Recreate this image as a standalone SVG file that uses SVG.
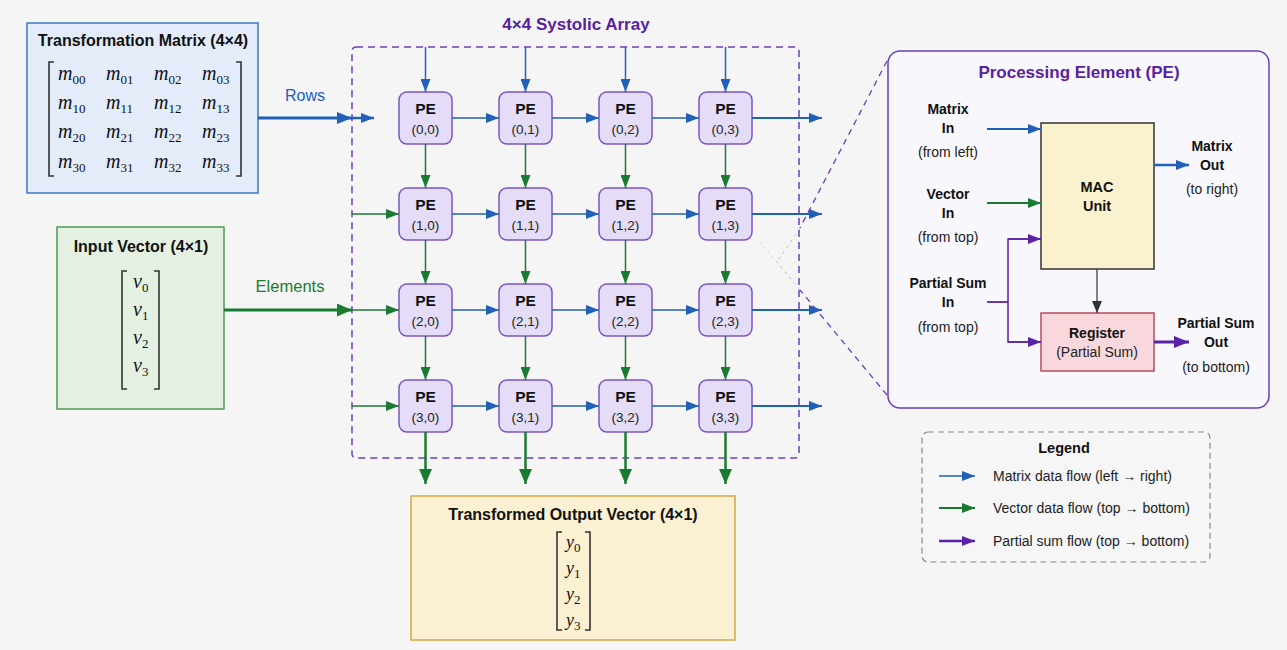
<svg xmlns="http://www.w3.org/2000/svg" width="1287" height="650" viewBox="0 0 1287 650">
<style>
text{font-family:"Liberation Sans",Arial,sans-serif;fill:#111}
.ttl{font-size:16px;font-weight:bold;text-anchor:middle}
.pe{fill:#e5ddf7;stroke:#7a55c4;stroke-width:1.5}
.pet{font-size:15.5px;font-weight:bold;text-anchor:middle}
.pec{font-size:13.5px;text-anchor:middle;fill:#222}
.m{font-family:"Liberation Serif","Times New Roman",serif;font-style:italic;font-size:20px}
.sub{font-style:normal;font-size:13px}
.br{fill:none;stroke:#333;stroke-width:1.6}
.lb{font-size:14px;font-weight:bold;text-anchor:middle}
.ln{font-size:14px;text-anchor:middle;fill:#222}
.blue{stroke:#2160b8;fill:none}
.green{stroke:#1b7a32;fill:none}
.purple{stroke:#5a22a6;fill:none}
.lg{font-size:14px;fill:#222}
</style>
<defs>
<marker id="ab" markerUnits="userSpaceOnUse" markerWidth="13" markerHeight="10" refX="13" refY="5" orient="auto"><path d="M0,0 L13,5 L0,10 z" fill="#2160b8"/></marker>
<marker id="ag" markerUnits="userSpaceOnUse" markerWidth="13" markerHeight="10" refX="13" refY="5" orient="auto"><path d="M0,0 L13,5 L0,10 z" fill="#1b7a32"/></marker>
<marker id="agL" markerUnits="userSpaceOnUse" markerWidth="15" markerHeight="13" refX="15" refY="6.5" orient="auto"><path d="M0,0 L15,6.5 L0,13 z" fill="#1b7a32"/></marker>
<marker id="abL" markerUnits="userSpaceOnUse" markerWidth="15" markerHeight="12" refX="15" refY="6" orient="auto"><path d="M0,0 L15,6 L0,12 z" fill="#2160b8"/></marker>
<marker id="ap" markerUnits="userSpaceOnUse" markerWidth="13" markerHeight="10" refX="13" refY="5" orient="auto"><path d="M0,0 L13,5 L0,10 z" fill="#5a22a6"/></marker>
<marker id="apL" markerUnits="userSpaceOnUse" markerWidth="15" markerHeight="12" refX="15" refY="6" orient="auto"><path d="M0,0 L15,6 L0,12 z" fill="#5a22a6"/></marker>
<marker id="ak" markerUnits="userSpaceOnUse" markerWidth="12" markerHeight="10" refX="12" refY="5" orient="auto"><path d="M0,0 L12,5 L0,10 z" fill="#333"/></marker>
</defs>
<rect width="1287" height="650" fill="#f5f5f5"/>

<!-- Array frame -->
<g id="array-frame">
<text x="576" y="30" style="font-size:17px;font-weight:bold;fill:#5a1f9e;text-anchor:middle">4×4 Systolic Array</text>
<rect x="352" y="47" width="447" height="411" rx="4" fill="none" stroke="#6a3fb8" stroke-width="1.5" stroke-dasharray="7,5"/>
</g>

<!-- Transformation matrix -->
<g id="matrix">
<rect x="27" y="23" width="231" height="170" fill="#e3ecf8" stroke="#3c78c8" stroke-width="1.5"/>
<text class="ttl" x="143" y="46">Transformation Matrix (4×4)</text>
<path class="br" d="M54,62 H49 V176 H54"/>
<path class="br" d="M236,62 H241 V176 H236"/>
<text class="m" x="58" y="80">m<tspan class="sub" dy="4">00</tspan></text>
<text class="m" x="106" y="80">m<tspan class="sub" dy="4">01</tspan></text>
<text class="m" x="154" y="80">m<tspan class="sub" dy="4">02</tspan></text>
<text class="m" x="202" y="80">m<tspan class="sub" dy="4">03</tspan></text>
<text class="m" x="58" y="109">m<tspan class="sub" dy="4">10</tspan></text>
<text class="m" x="106" y="109">m<tspan class="sub" dy="4">11</tspan></text>
<text class="m" x="154" y="109">m<tspan class="sub" dy="4">12</tspan></text>
<text class="m" x="202" y="109">m<tspan class="sub" dy="4">13</tspan></text>
<text class="m" x="58" y="138">m<tspan class="sub" dy="4">20</tspan></text>
<text class="m" x="106" y="138">m<tspan class="sub" dy="4">21</tspan></text>
<text class="m" x="154" y="138">m<tspan class="sub" dy="4">22</tspan></text>
<text class="m" x="202" y="138">m<tspan class="sub" dy="4">23</tspan></text>
<text class="m" x="58" y="168">m<tspan class="sub" dy="4">30</tspan></text>
<text class="m" x="106" y="168">m<tspan class="sub" dy="4">31</tspan></text>
<text class="m" x="154" y="168">m<tspan class="sub" dy="4">32</tspan></text>
<text class="m" x="202" y="168">m<tspan class="sub" dy="4">33</tspan></text>
</g>

<!-- Input vector -->
<g id="input-vector">
<rect x="57" y="227" width="167" height="182" fill="#e4f1e2" stroke="#4e9a52" stroke-width="1.5"/>
<text class="ttl" x="141" y="252">Input Vector (4×1)</text>
<path class="br" d="M127,271 H122 V389 H127"/>
<path class="br" d="M154,271 H159 V389 H154"/>
<text class="m" x="133" y="288">v<tspan class="sub" dy="4">0</tspan></text>
<text class="m" x="133" y="316">v<tspan class="sub" dy="4">1</tspan></text>
<text class="m" x="133" y="344">v<tspan class="sub" dy="4">2</tspan></text>
<text class="m" x="133" y="372">v<tspan class="sub" dy="4">3</tspan></text>
</g>

<!-- Output vector -->
<g id="output-vector">
<rect x="411" y="496" width="324" height="144" fill="#fbf0d2" stroke="#d6a646" stroke-width="1.5"/>
<text class="ttl" x="573" y="520">Transformed Output Vector (4×1)</text>
<path class="br" d="M562,532 H557 V630 H562"/>
<path class="br" d="M585,532 H590 V630 H585"/>
<text class="m" x="566" y="548" style="font-size:18px">y<tspan class="sub" dy="4">0</tspan></text>
<text class="m" x="566" y="574" style="font-size:18px">y<tspan class="sub" dy="4">1</tspan></text>
<text class="m" x="566" y="600" style="font-size:18px">y<tspan class="sub" dy="4">2</tspan></text>
<text class="m" x="566" y="626" style="font-size:18px">y<tspan class="sub" dy="4">3</tspan></text>
</g>

<!-- PE nodes -->
<g id="pe-0-0"><rect class="pe" x="399" y="92" width="53" height="52" rx="8"/><text class="pet" x="425.5" y="114">PE</text><text class="pec" x="425.5" y="134">(0,0)</text></g>
<g id="pe-0-1"><rect class="pe" x="499" y="92" width="53" height="52" rx="8"/><text class="pet" x="525.5" y="114">PE</text><text class="pec" x="525.5" y="134">(0,1)</text></g>
<g id="pe-0-2"><rect class="pe" x="599" y="92" width="53" height="52" rx="8"/><text class="pet" x="625.5" y="114">PE</text><text class="pec" x="625.5" y="134">(0,2)</text></g>
<g id="pe-0-3"><rect class="pe" x="699" y="92" width="53" height="52" rx="8"/><text class="pet" x="725.5" y="114">PE</text><text class="pec" x="725.5" y="134">(0,3)</text></g>
<g id="pe-1-0"><rect class="pe" x="399" y="188" width="53" height="52" rx="8"/><text class="pet" x="425.5" y="210">PE</text><text class="pec" x="425.5" y="230">(1,0)</text></g>
<g id="pe-1-1"><rect class="pe" x="499" y="188" width="53" height="52" rx="8"/><text class="pet" x="525.5" y="210">PE</text><text class="pec" x="525.5" y="230">(1,1)</text></g>
<g id="pe-1-2"><rect class="pe" x="599" y="188" width="53" height="52" rx="8"/><text class="pet" x="625.5" y="210">PE</text><text class="pec" x="625.5" y="230">(1,2)</text></g>
<g id="pe-1-3"><rect class="pe" x="699" y="188" width="53" height="52" rx="8"/><text class="pet" x="725.5" y="210">PE</text><text class="pec" x="725.5" y="230">(1,3)</text></g>
<g id="pe-2-0"><rect class="pe" x="399" y="284" width="53" height="52" rx="8"/><text class="pet" x="425.5" y="306">PE</text><text class="pec" x="425.5" y="326">(2,0)</text></g>
<g id="pe-2-1"><rect class="pe" x="499" y="284" width="53" height="52" rx="8"/><text class="pet" x="525.5" y="306">PE</text><text class="pec" x="525.5" y="326">(2,1)</text></g>
<g id="pe-2-2"><rect class="pe" x="599" y="284" width="53" height="52" rx="8"/><text class="pet" x="625.5" y="306">PE</text><text class="pec" x="625.5" y="326">(2,2)</text></g>
<g id="pe-2-3"><rect class="pe" x="699" y="284" width="53" height="52" rx="8"/><text class="pet" x="725.5" y="306">PE</text><text class="pec" x="725.5" y="326">(2,3)</text></g>
<g id="pe-3-0"><rect class="pe" x="399" y="380" width="53" height="52" rx="8"/><text class="pet" x="425.5" y="402">PE</text><text class="pec" x="425.5" y="422">(3,0)</text></g>
<g id="pe-3-1"><rect class="pe" x="499" y="380" width="53" height="52" rx="8"/><text class="pet" x="525.5" y="402">PE</text><text class="pec" x="525.5" y="422">(3,1)</text></g>
<g id="pe-3-2"><rect class="pe" x="599" y="380" width="53" height="52" rx="8"/><text class="pet" x="625.5" y="402">PE</text><text class="pec" x="625.5" y="422">(3,2)</text></g>
<g id="pe-3-3"><rect class="pe" x="699" y="380" width="53" height="52" rx="8"/><text class="pet" x="725.5" y="402">PE</text><text class="pec" x="725.5" y="422">(3,3)</text></g>

<!-- PE detail panel -->
<g id="pe-detail">
<rect x="888" y="51" width="381" height="357" rx="12" fill="#f8f7fc" stroke="#6a3fb8" stroke-width="1.5"/>
<text x="1079" y="78" style="font-size:17px;font-weight:bold;fill:#5a1f9e;text-anchor:middle">Processing Element (PE)</text>
<g id="mac-unit"><rect x="1041" y="123" width="113" height="146" fill="#faf2cf" stroke="#333" stroke-width="1.5"/>
<text class="lb" x="1097" y="192" style="font-size:14.5px">MAC</text><text class="lb" x="1097" y="211" style="font-size:14.5px">Unit</text></g>
<g id="register"><rect x="1041" y="313" width="113" height="58" fill="#f8d8dc" stroke="#b94b5c" stroke-width="1.5"/>
<text class="lb" x="1097" y="338">Register</text><text class="ln" x="1097" y="357">(Partial Sum)</text></g>
<text class="lb" x="948" y="114">Matrix</text><text class="lb" x="948" y="133">In</text><text class="ln" x="948" y="157">(from left)</text>
<text class="lb" x="948" y="199">Vector</text><text class="lb" x="948" y="218">In</text><text class="ln" x="948" y="242">(from top)</text>
<text class="lb" x="948" y="288">Partial Sum</text><text class="lb" x="948" y="307">In</text><text class="ln" x="948" y="332">(from top)</text>
<text class="lb" x="1212" y="151">Matrix</text><text class="lb" x="1212" y="170">Out</text><text class="ln" x="1212" y="194">(to right)</text>
<text class="lb" x="1216" y="328">Partial Sum</text><text class="lb" x="1216" y="347">Out</text><text class="ln" x="1216" y="372">(to bottom)</text>
</g>

<!-- Legend -->
<g id="legend">
<rect x="922" y="432" width="288" height="130" rx="6" fill="#f6f6f6" stroke="#888" stroke-width="1.2" stroke-dasharray="6,4"/>
<text x="1064" y="453" style="font-size:14.5px;font-weight:bold;text-anchor:middle">Legend</text>
<line x1="939" y1="476" x2="975" y2="476" class="blue" stroke-width="1.5" marker-end="url(#ab)"/>
<line x1="939" y1="508" x2="975" y2="508" class="green" stroke-width="1.8" marker-end="url(#ag)"/>
<line x1="939" y1="541" x2="975" y2="541" class="purple" stroke-width="2.5" marker-end="url(#ap)"/>
<text class="lg" x="993" y="481">Matrix data flow (left → right)</text>
<text class="lg" x="993" y="513">Vector data flow (top → bottom)</text>
<text class="lg" x="993" y="546">Partial sum flow (top → bottom)</text>
</g>

<!-- Connectors -->
<g id="connectors">
<text x="305" y="101" style="font-size:16px;fill:#2160b8;text-anchor:middle">Rows</text>
<text x="290" y="292" style="font-size:16.5px;fill:#1b7a32;text-anchor:middle">Elements</text>
<line x1="258" y1="118" x2="352" y2="118" class="blue" stroke-width="3" marker-end="url(#abL)"/>
<line x1="352" y1="118" x2="374" y2="118" class="blue" stroke-width="2.5" marker-end="url(#ab)"/>
<line x1="224" y1="310" x2="352" y2="310" class="green" stroke-width="3" marker-end="url(#agL)"/>
<line x1="352" y1="310" x2="399" y2="310" class="green" stroke-width="1.5" marker-end="url(#ag)"/>
<line x1="352" y1="214" x2="399" y2="214" class="green" stroke-width="1.5" marker-end="url(#ag)"/>
<line x1="352" y1="406" x2="399" y2="406" class="green" stroke-width="1.5" marker-end="url(#ag)"/>
<line x1="425.5" y1="47" x2="425.5" y2="92" class="blue" stroke-width="1.5" marker-end="url(#ab)"/>
<line x1="525.5" y1="47" x2="525.5" y2="92" class="blue" stroke-width="1.5" marker-end="url(#ab)"/>
<line x1="625.5" y1="47" x2="625.5" y2="92" class="blue" stroke-width="1.5" marker-end="url(#ab)"/>
<line x1="725.5" y1="47" x2="725.5" y2="92" class="blue" stroke-width="1.5" marker-end="url(#ab)"/>
<line x1="452" y1="118" x2="499" y2="118" class="blue" stroke-width="1.5" marker-end="url(#ab)"/>
<line x1="552" y1="118" x2="599" y2="118" class="blue" stroke-width="1.5" marker-end="url(#ab)"/>
<line x1="652" y1="118" x2="699" y2="118" class="blue" stroke-width="1.5" marker-end="url(#ab)"/>
<line x1="452" y1="214" x2="499" y2="214" class="blue" stroke-width="1.5" marker-end="url(#ab)"/>
<line x1="552" y1="214" x2="599" y2="214" class="blue" stroke-width="1.5" marker-end="url(#ab)"/>
<line x1="652" y1="214" x2="699" y2="214" class="blue" stroke-width="1.5" marker-end="url(#ab)"/>
<line x1="452" y1="310" x2="499" y2="310" class="blue" stroke-width="1.5" marker-end="url(#ab)"/>
<line x1="552" y1="310" x2="599" y2="310" class="blue" stroke-width="1.5" marker-end="url(#ab)"/>
<line x1="652" y1="310" x2="699" y2="310" class="blue" stroke-width="1.5" marker-end="url(#ab)"/>
<line x1="452" y1="406" x2="499" y2="406" class="blue" stroke-width="1.5" marker-end="url(#ab)"/>
<line x1="552" y1="406" x2="599" y2="406" class="blue" stroke-width="1.5" marker-end="url(#ab)"/>
<line x1="652" y1="406" x2="699" y2="406" class="blue" stroke-width="1.5" marker-end="url(#ab)"/>
<line x1="752" y1="118" x2="822" y2="118" class="blue" stroke-width="2" marker-end="url(#ab)"/>
<line x1="752" y1="214" x2="822" y2="214" class="blue" stroke-width="1.8" marker-end="url(#ab)"/>
<line x1="752" y1="310" x2="822" y2="310" class="blue" stroke-width="1.8" marker-end="url(#ab)"/>
<line x1="752" y1="406" x2="822" y2="406" class="blue" stroke-width="2" marker-end="url(#ab)"/>
<line x1="425.5" y1="144" x2="425.5" y2="188" class="green" stroke-width="1.5" marker-end="url(#ag)"/>
<line x1="525.5" y1="144" x2="525.5" y2="188" class="green" stroke-width="1.5" marker-end="url(#ag)"/>
<line x1="625.5" y1="144" x2="625.5" y2="188" class="green" stroke-width="1.5" marker-end="url(#ag)"/>
<line x1="725.5" y1="144" x2="725.5" y2="188" class="green" stroke-width="1.5" marker-end="url(#ag)"/>
<line x1="425.5" y1="240" x2="425.5" y2="284" class="green" stroke-width="1.5" marker-end="url(#ag)"/>
<line x1="525.5" y1="240" x2="525.5" y2="284" class="green" stroke-width="1.5" marker-end="url(#ag)"/>
<line x1="625.5" y1="240" x2="625.5" y2="284" class="green" stroke-width="1.5" marker-end="url(#ag)"/>
<line x1="725.5" y1="240" x2="725.5" y2="284" class="green" stroke-width="1.5" marker-end="url(#ag)"/>
<line x1="425.5" y1="336" x2="425.5" y2="380" class="green" stroke-width="1.5" marker-end="url(#ag)"/>
<line x1="525.5" y1="336" x2="525.5" y2="380" class="green" stroke-width="1.5" marker-end="url(#ag)"/>
<line x1="625.5" y1="336" x2="625.5" y2="380" class="green" stroke-width="1.5" marker-end="url(#ag)"/>
<line x1="725.5" y1="336" x2="725.5" y2="380" class="green" stroke-width="1.5" marker-end="url(#ag)"/>
<line x1="425.5" y1="432" x2="425.5" y2="484" class="green" stroke-width="2.5" marker-end="url(#agL)"/>
<line x1="525.5" y1="432" x2="525.5" y2="484" class="green" stroke-width="2.5" marker-end="url(#agL)"/>
<line x1="625.5" y1="432" x2="625.5" y2="484" class="green" stroke-width="2.5" marker-end="url(#agL)"/>
<line x1="725.5" y1="432" x2="725.5" y2="484" class="green" stroke-width="2.5" marker-end="url(#agL)"/>
<line x1="887" y1="61" x2="800" y2="228" stroke="#6a3fb8" stroke-width="1.3" stroke-dasharray="6,5"/>
<line x1="800" y1="228" x2="777" y2="262" stroke="#6a3fb8" stroke-width="1" stroke-dasharray="3,4" opacity="0.35"/>
<line x1="887" y1="395" x2="800" y2="290" stroke="#6a3fb8" stroke-width="1.3" stroke-dasharray="6,5"/>
<line x1="800" y1="290" x2="777" y2="262" stroke="#6a3fb8" stroke-width="1" stroke-dasharray="3,4" opacity="0.35"/>
<line x1="777" y1="262" x2="758" y2="240" stroke="#6a3fb8" stroke-width="1" stroke-dasharray="2,4" opacity="0.25"/>
<line x1="987" y1="129" x2="1041" y2="129" class="blue" stroke-width="2" marker-end="url(#ab)"/>
<line x1="987" y1="203" x2="1041" y2="203" class="green" stroke-width="2" marker-end="url(#ag)"/>
<polyline points="987,302 1008,302" class="purple" stroke-width="1.8"/>
<polyline points="1041,239 1008,239 1008,342 1041,342" class="purple" stroke-width="1.5"/>
<line x1="1008" y1="239" x2="1041" y2="239" class="purple" stroke-width="1.5" marker-end="url(#ap)"/>
<line x1="1008" y1="342" x2="1041" y2="342" class="purple" stroke-width="1.5" marker-end="url(#ap)"/>
<line x1="1097" y1="269" x2="1097" y2="313" stroke="#333" stroke-width="1.2" marker-end="url(#ak)"/>
<line x1="1154" y1="165" x2="1189" y2="165" class="blue" stroke-width="2.5" marker-end="url(#ab)"/>
<line x1="1154" y1="342" x2="1189" y2="342" class="purple" stroke-width="3" marker-end="url(#apL)"/>
</g>
</svg>
